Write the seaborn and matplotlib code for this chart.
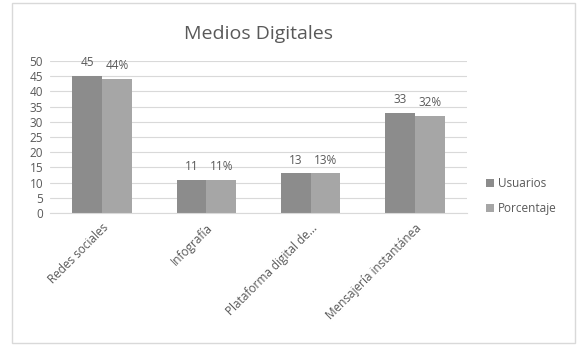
import seaborn as sns
import pandas as pd
import matplotlib.pyplot as plt
from matplotlib.patches import Rectangle

categorias = ['Redes sociales', 'Infografía', 'Plataforma digital de...', 'Mensajería instantánea']
usuarios = [45, 11, 13, 33]
porcentaje = [44, 11, 13, 32]

df = pd.DataFrame({
    'categoria': categorias * 2,
    'valor': usuarios + porcentaje,
    'serie': ['Usuarios'] * 4 + ['Porcentaje'] * 4,
})

sns.set_style('white')
plt.rcParams['font.family'] = ['Open Sans', 'DejaVu Sans']

fig = plt.figure(figsize=(5.79, 3.45), dpi=100)
ax = fig.add_axes([0.0864, 0.3826, 0.7202, 0.4406])

sns.barplot(data=df, x='categoria', y='valor', hue='serie',
            palette={'Usuarios': '#8c8c8c', 'Porcentaje': '#a6a6a6'},
            width=0.57, gap=0, saturation=1, linewidth=0, ax=ax)

ax.set_ylim(0, 50)
ax.set_yticks(range(0, 51, 5))
ax.yaxis.grid(True, color='#d9d9d9', linewidth=0.8)
ax.set_axisbelow(True)
for s in ['top', 'right', 'left']:
    ax.spines[s].set_visible(False)
ax.spines['bottom'].set_color('#d9d9d9')
ax.set_xlabel('')
ax.set_ylabel('')
ax.tick_params(axis='y', length=0, labelsize=8.5, labelcolor='#595959', pad=5)
ax.tick_params(axis='x', length=0, labelsize=8.5, labelcolor='#595959', pad=6)
plt.setp(ax.get_xticklabels(), rotation=45, ha='right', rotation_mode='anchor')

ax.bar_label(ax.containers[0], labels=[str(v) for v in usuarios],
             fontsize=8.5, color='#595959', padding=5)
ax.bar_label(ax.containers[1], labels=[f'{v}%' for v in porcentaje],
             fontsize=8.5, color='#595959', padding=5)

ax.set_title('Medios Digitales', fontsize=14, color='#595959', pad=16)

leg = ax.legend(loc='center left', bbox_to_anchor=(1.02, 0.11), frameon=False,
                fontsize=8.5, handlelength=0.7, handleheight=0.7,
                handletextpad=0.3, labelspacing=1.0, labelcolor='#595959')

fig.patches.append(Rectangle((12 / 579, 2 / 345), 563 / 579, 340 / 345,
                             transform=fig.transFigure, fill=False,
                             edgecolor='#d9d9d9', linewidth=1))

fig.savefig('out.png', dpi=100, facecolor='white')
